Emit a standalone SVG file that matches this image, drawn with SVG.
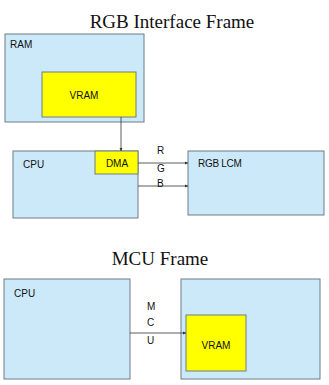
<svg xmlns="http://www.w3.org/2000/svg" width="329" height="385" viewBox="0 0 329 385">
<defs>
<style>
.title{font-family:"Liberation Serif","Times New Roman",serif;font-size:19px;fill:#111;text-anchor:middle}
.box{fill:#cce9f9;stroke:#6e7c86;stroke-width:1}
.ybox{fill:#ffff00;stroke:#6e7c86;stroke-width:1}
.lbl{font-family:"Liberation Sans",Arial,sans-serif;font-size:10px;fill:#111}
.c{text-anchor:middle}
.ln{stroke:#333;stroke-width:0.8;fill:none}
</style>
<marker id="ah" viewBox="0 0 6 6" refX="6" refY="3" markerWidth="4" markerHeight="4" orient="auto"><path d="M0,0 L6,3 L0,6 Z" fill="#333"/></marker>
</defs>
<rect width="329" height="385" fill="#fff"/>
<text class="title" x="172" y="28">RGB Interface Frame</text>
<text class="title" x="160" y="265">MCU Frame</text>
<g id="ram"><rect class="box" x="5" y="34" width="139" height="88"/><text class="lbl" x="10" y="48">RAM</text></g>
<g id="vram1"><rect class="ybox" x="42" y="72" width="94" height="45"/><text class="lbl c" x="84" y="99">VRAM</text></g>
<g id="cpu1"><rect class="box" x="13" y="151" width="125" height="67"/><text class="lbl" x="23" y="168">CPU</text></g>
<g id="dma"><rect class="ybox" x="95" y="151" width="43" height="23"/><text class="lbl c" x="117" y="167">DMA</text></g>
<g id="lcm"><rect class="box" x="188" y="151" width="136" height="64"/><text class="lbl" x="198" y="167" letter-spacing="-0.3">RGB LCM</text></g>
<g id="cpu2"><rect class="box" x="4" y="279" width="126" height="100"/><text class="lbl" x="14" y="297">CPU</text></g>
<g id="mcu"><rect class="box" x="181" y="279" width="139" height="100"/></g>
<g id="vram2"><rect class="ybox" x="186" y="315" width="60" height="56"/><text class="lbl c" x="216" y="349">VRAM</text></g>
<g id="connectors">
<line class="ln" x1="121" y1="117" x2="121" y2="151" marker-end="url(#ah)"/>
<line class="ln" x1="138" y1="163" x2="188" y2="163" marker-end="url(#ah)"/>
<line class="ln" x1="138" y1="186" x2="188" y2="186" marker-end="url(#ah)"/>
<line class="ln" x1="130" y1="333" x2="186" y2="333" marker-end="url(#ah)"/>
<text class="lbl" x="157" y="154">R</text>
<text class="lbl" x="157" y="172">G</text>
<text class="lbl" x="157" y="187">B</text>
<text class="lbl" x="147" y="310">M</text>
<text class="lbl" x="147" y="326">C</text>
<text class="lbl" x="147" y="344">U</text>
</g>
</svg>
